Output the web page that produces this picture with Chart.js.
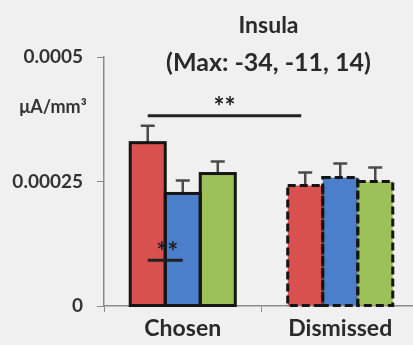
<!DOCTYPE html>
<html><head><meta charset="utf-8">
<script src="https://cdn.jsdelivr.net/npm/chart.js@4"></script>
<style>
html,body{margin:0;padding:0;background:#f0f0f0;overflow:hidden;width:413px;height:345px}
#wrap{width:419px;height:345px;position:relative}
</style>
</head><body><div id="wrap"><canvas id="c"></canvas></div>
<script>
const categories = ['Chosen', 'Dismissed'];
const seriesNames = ['Series 1', 'Series 2', 'Series 3'];
const redValues = [0.000328, 0.000242];
const blueValues = [0.000226, 0.000258];
const greenValues = [0.000266, 0.000250];
const redErrors = [0.000034, 0.000026];
const blueErrors = [0.000026, 0.000028];
const greenErrors = [0.000024, 0.000028];
const yTicks = [0, 0.00025, 0.0005];
const yTickLabels = ['0', '0.00025', '0.0005'];
const titleLines = ['Insula', '(Max: -34, -11, 14)'];
const unitLabel = 'μA/mm³';
const sigLabel = '**';
const sigBetweenValue = 0.000382;
const sigWithinValue = 0.000092;

const FONT = 'Lato, "Open Sans", sans-serif';
Chart.defaults.font.family = FONT;

const overlay = {
  id: 'overlay',
  afterDatasetsDraw(chart) {
    const ctx = chart.ctx, ys = chart.scales.y;
    chart.data.datasets.forEach((ds, di) => {
      const meta = chart.getDatasetMeta(di);
      meta.data.forEach((bar, i) => {
        const p = bar.getProps(['x', 'y', 'base', 'width'], true);
        const ey = ys.getPixelForValue(ds.data[i] + ds.errors[i]);
        ctx.save();
        ctx.strokeStyle = '#4a4a4a';
        ctx.lineWidth = 2.5;
        ctx.beginPath();
        ctx.moveTo(p.x, p.y);
        ctx.lineTo(p.x, ey);
        ctx.moveTo(p.x - 7, ey);
        ctx.lineTo(p.x + 7, ey);
        ctx.stroke();
        ctx.restore();
      });
    });
    chart.data.datasets.forEach((ds, di) => {
      const meta = chart.getDatasetMeta(di);
      meta.data.forEach((bar, i) => {
        const p = bar.getProps(['x', 'y', 'base', 'width'], true);
        ctx.save();
        ctx.strokeStyle = '#151515';
        ctx.lineWidth = 3;
        ctx.setLineDash(i === 1 ? [8, 4] : []);
        ctx.strokeRect(p.x - p.width / 2, p.y, p.width, p.base - p.y);
        ctx.restore();
      });
    });
    const m0 = chart.getDatasetMeta(0), m1 = chart.getDatasetMeta(1);
    ctx.save();
    ctx.strokeStyle = '#222';
    ctx.fillStyle = '#222';
    ctx.lineWidth = 3;
    const yb = ys.getPixelForValue(sigBetweenValue);
    ctx.beginPath();
    ctx.moveTo(m0.data[0].x, yb);
    ctx.lineTo(m0.data[1].x - 4, yb);
    ctx.stroke();
    ctx.font = 'bold 26px ' + FONT;
    ctx.textAlign = 'center';
    ctx.textBaseline = 'middle';
    ctx.fillText(sigLabel, (m0.data[0].x + m0.data[1].x) / 2 - 2, yb - 8);
    const yw = ys.getPixelForValue(sigWithinValue);
    ctx.beginPath();
    ctx.moveTo(m0.data[0].x, yw);
    ctx.lineTo(m1.data[0].x, yw);
    ctx.stroke();
    ctx.fillText(sigLabel, (m0.data[0].x + m1.data[0].x) / 2 + 2, yw - 8);
    ctx.restore();
  },
  afterDraw(chart) {
    const ctx = chart.ctx, ys = chart.scales.y, ca = chart.chartArea;
    ctx.save();
    ctx.fillStyle = '#2a2a2a';
    ctx.textAlign = 'center';
    ctx.textBaseline = 'middle';
    const cx = (ca.left + ca.right) / 2 + 7;
    ctx.font = 'bold 23px ' + FONT;
    ctx.fillText(titleLines[0], cx, 26);
    ctx.font = 'bold 25px ' + FONT;
    ctx.fillText(titleLines[1], cx, 63);
    ctx.font = 'bold 18px ' + FONT;
    ctx.fillStyle = '#333';
    ctx.fillText(unitLabel, 53, ys.getPixelForValue(0.0004));
    ctx.restore();
  }
};

const colors = ['#d9514e', '#4b7fcc', '#9cc159'];
const values = [redValues, blueValues, greenValues];
const errors = [redErrors, blueErrors, greenErrors];

new Chart(document.getElementById('c'), {
  type: 'bar',
  data: {
    labels: categories,
    datasets: values.map((v, k) => ({
      label: seriesNames[k],
      data: v,
      errors: errors[k],
      backgroundColor: colors[k],
      borderWidth: 0,
      categoryPercentage: 0.667,
      barPercentage: 1.0
    }))
  },
  options: {
    responsive: true,
    maintainAspectRatio: false,
    animation: false,
    layout: { padding: { top: 57, left: 0, right: 0, bottom: 0 } },
    plugins: { legend: { display: false }, tooltip: { enabled: false }, title: { display: false } },
    scales: {
      x: {
        afterFit(s) { s.height = 39; },
        border: { display: true, color: '#8c8c8c', width: 1.5 },
        grid: { display: true, drawOnChartArea: false, tickLength: 6, color: '#8c8c8c', offset: true },
        ticks: { color: '#2a2a2a', font: { size: 23, weight: 'bold' }, padding: 3 }
      },
      y: {
        min: 0, max: 0.0005,
        afterFit(s) { s.width = 104; },
        afterBuildTicks(s) { s.ticks = yTicks.map(v => ({ value: v })); },
        border: { display: true, color: '#8c8c8c', width: 1.5 },
        grid: { display: true, drawOnChartArea: false, tickLength: 7, color: '#8c8c8c' },
        ticks: {
          color: '#333',
          font: { size: 19, weight: 'bold' },
          padding: 14,
          callback(v) { const i = yTicks.indexOf(v); return i >= 0 ? yTickLabels[i] : ''; }
        }
      }
    }
  },
  plugins: [overlay]
});
</script>
</body></html>
